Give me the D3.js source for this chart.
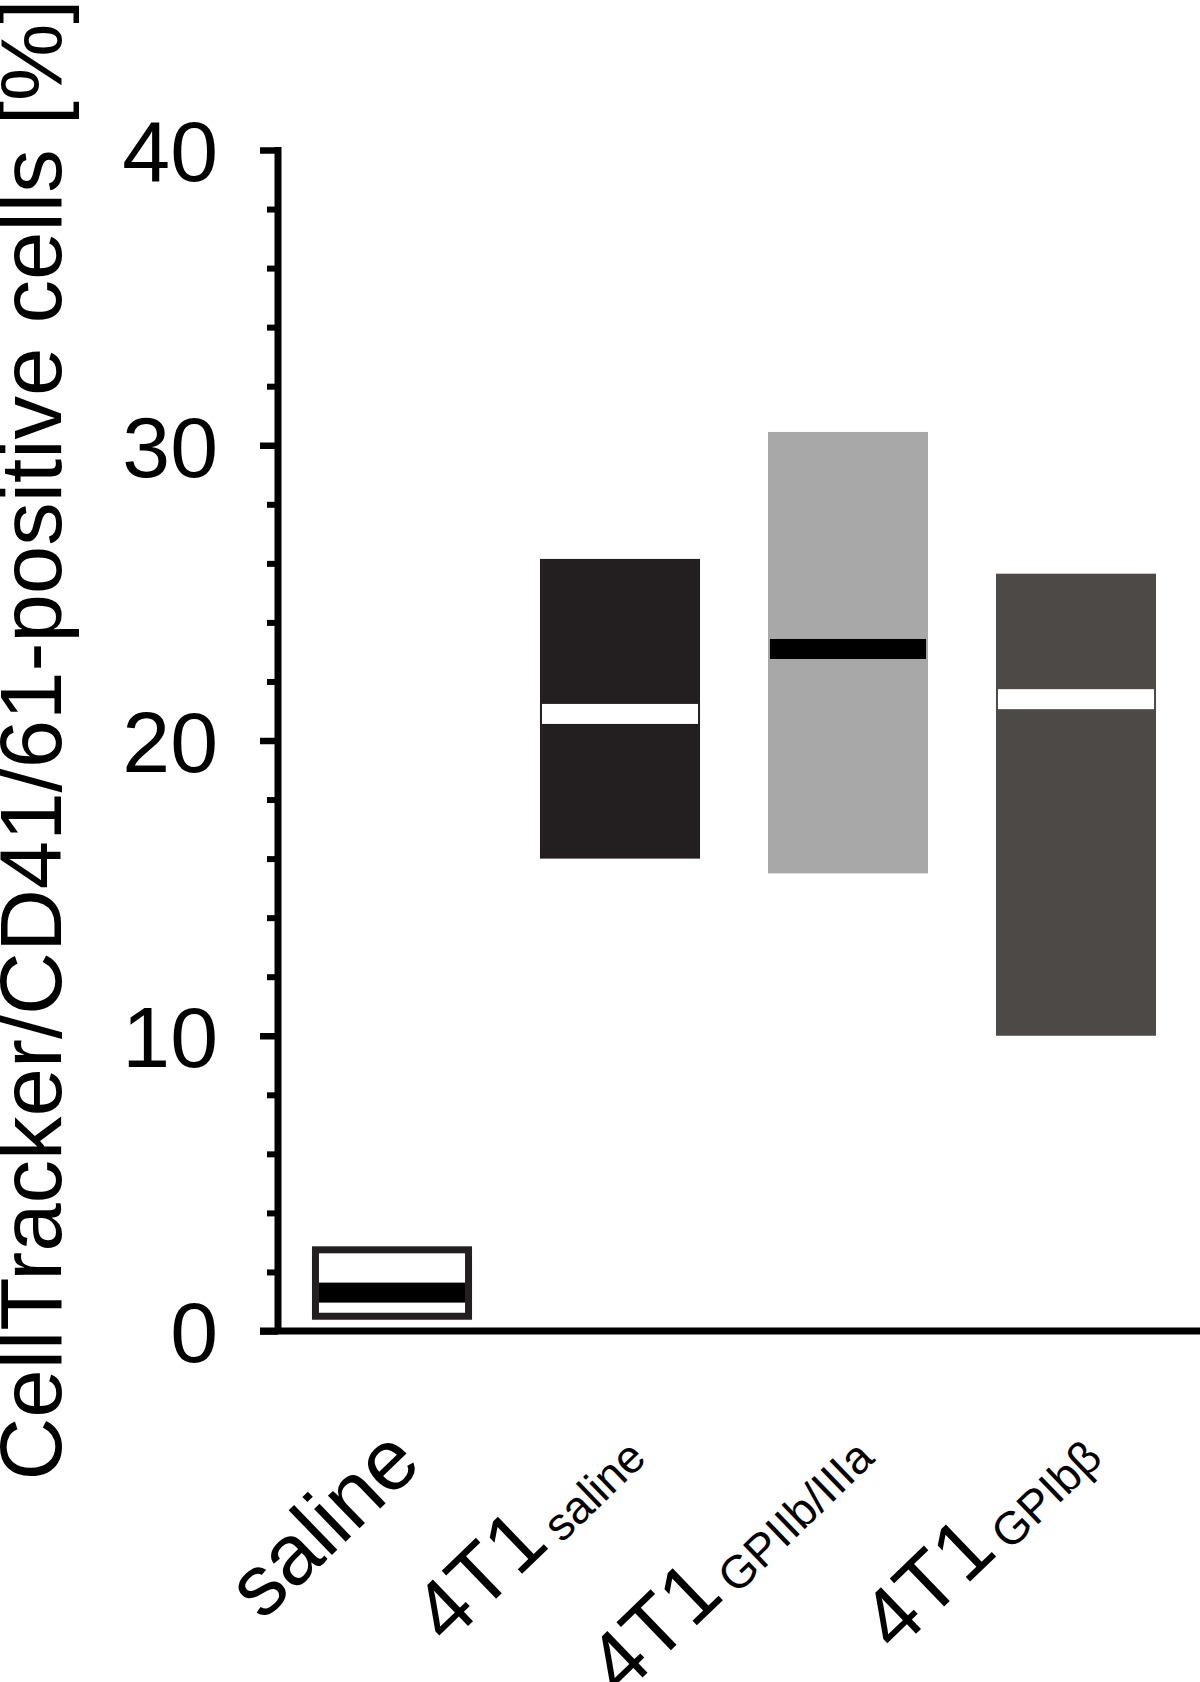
<!DOCTYPE html>
<html>
<head>
<meta charset="utf-8">
<script src="https://cdn.jsdelivr.net/npm/d3@7"></script>
<style>
  html, body { margin: 0; padding: 0; background: #fff; }
  svg { display: block; }
  text { font-family: "Liberation Sans", Arial, Helvetica, sans-serif; fill: #000; }
</style>
</head>
<body>
<svg id="chart" width="1200" height="1682"></svg>
<script>
// ---- data ----
const categories = ["saline", "4T1 saline", "4T1 GPIIb/IIIa", "4T1 GPIbβ"];
const labelMain = ["saline", "4T1", "4T1", "4T1"];
const labelSub = ["", "saline", "GPIIb/IIIa", "GPIbβ"];
const lowerValues = [0.5, 16.0, 15.5, 10.0];
const upperValues = [2.75, 26.15, 30.45, 25.65];
const medianValues = [1.3, 20.9, 23.1, 21.4];
const majorTicks = [0, 10, 20, 30, 40];
const minorTicks = [2, 4, 6, 8, 12, 14, 16, 18, 22, 24, 26, 28, 32, 34, 36, 38];
const yTitle = "CellTracker/CD41/61-positive cells [%]";

// ---- styles ----
const boxFill = ["#ffffff", "#231f20", "#a8a8a8", "#4c4947"];
const boxStroke = ["#231f20", "none", "none", "none"];
const bandFill = ["#000000", "#ffffff", "#000000", "#ffffff"];

const svg = d3.select("#chart");
svg.append("rect").attr("width", 1200).attr("height", 1682).attr("fill", "#fff");

const axisX = 278;
const y = d3.scaleLinear().domain([0, 40]).range([1331, 150]);
const x = d3.scaleBand().domain(categories).range([axisX, 1190])
  .paddingInner(0.298).paddingOuter(0.149);

const data = categories.map((c, i) => ({
  c, i, lo: lowerValues[i], hi: upperValues[i], med: medianValues[i]
}));

// boxes
const g = svg.append("g");
data.forEach(d => {
  const sw = boxStroke[d.i] === "none" ? 0 : 7;
  g.append("rect")
    .attr("x", x(d.c) + sw / 2)
    .attr("width", x.bandwidth() - sw)
    .attr("y", y(d.hi))
    .attr("height", y(d.lo) - y(d.hi))
    .attr("fill", boxFill[d.i])
    .attr("stroke", boxStroke[d.i])
    .attr("stroke-width", sw);
  const bandH = 20;
  const inset = sw ? sw : 2;
  g.append("rect")
    .attr("x", x(d.c) + inset)
    .attr("width", x.bandwidth() - 2 * inset)
    .attr("y", y(d.med) - bandH / 2)
    .attr("height", bandH)
    .attr("fill", bandFill[d.i]);
});

// y axis: minor ticks
const minorAxis = d3.axisLeft(y).tickValues(minorTicks).tickSize(11).tickSizeOuter(0).tickFormat("");
const gMinor = svg.append("g").attr("transform", `translate(${axisX},0)`).call(minorAxis);
gMinor.select(".domain").remove();
gMinor.selectAll(".tick line").attr("stroke", "#000").attr("stroke-width", 6);

// y axis: major ticks with labels
const majorAxis = d3.axisLeft(y).tickValues(majorTicks).tickSize(18).tickSizeOuter(0).tickPadding(42).tickFormat(d3.format("d"));
const gMajor = svg.append("g").attr("transform", `translate(${axisX},0)`).call(majorAxis);
gMajor.select(".domain").attr("stroke", "#000").attr("stroke-width", 7)
  .attr("d", `M0,${y(40) - 3}V${y(0) + 3}`);
gMajor.selectAll(".tick line").attr("stroke", "#000").attr("stroke-width", 6.5);
gMajor.selectAll(".tick text")
  .attr("font-size", 86)
  .attr("font-family", "'Liberation Sans', Arial, sans-serif")
  .attr("fill", "#000")
  .attr("dy", "0.36em");

// x axis line
svg.append("line")
  .attr("x1", axisX - 18).attr("x2", 1200)
  .attr("y1", y(0)).attr("y2", y(0))
  .attr("stroke", "#000").attr("stroke-width", 7);

// x labels (rotated)
data.forEach(d => {
  const hasSub = !!labelSub[d.i];
  const cx = x(d.c) + x.bandwidth() / 2 + (hasSub ? 24 : 32);
  const cy = hasSub ? 1456 : 1466;
  const t = svg.append("text")
    .attr("transform", `translate(${cx},${cy}) rotate(-44)`)
    .attr("text-anchor", "end");
  t.append("tspan").attr("font-size", hasSub ? 84 : 86).text(labelMain[d.i]);
  if (hasSub) {
    t.append("tspan").attr("font-size", 46).attr("dx", 9).attr("dy", 6).text(labelSub[d.i]);
  }
});

// y title
svg.append("text")
  .attr("transform", `translate(61,740) rotate(-90)`)
  .attr("text-anchor", "middle")
  .attr("font-size", 87)
  .text(yTitle);
</script>
</body>
</html>
